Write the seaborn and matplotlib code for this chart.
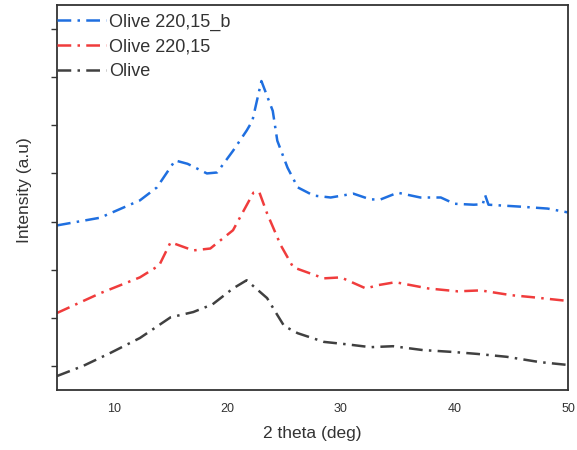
import matplotlib
matplotlib.use("Agg")
import matplotlib.pyplot as plt
import seaborn as sns
import numpy as np

sns.set_style("white")
plt.rcParams['font.family'] = ['Liberation Sans', 'DejaVu Sans']

# Olive 220,15_b (blue)
x_b = [5, 8.8, 12.3, 13.8, 15.4, 16.5, 18.2, 19.1, 20.5, 21.7, 22.2, 23.0, 24.0, 24.4,
       25.3, 26.2, 27.6, 29.1, 31.1, 32.6, 33.5, 35.0, 37.0, 38.8, 40.0, 41.7, 42.5, 42.7,
       43.0, 45.8, 48.2, 50]
y_b = [2.92, 3.08, 3.44, 3.71, 4.27, 4.20, 4.00, 4.02, 4.47, 4.89, 5.09, 5.92, 5.30, 4.68,
       4.12, 3.71, 3.54, 3.50, 3.58, 3.46, 3.46, 3.60, 3.50, 3.50, 3.37, 3.35, 3.36, 3.55,
       3.35, 3.31, 3.27, 3.19]

# Olive 220,15 (red)
x_r = [5, 8.8, 12.3, 14.0, 15.0, 17.0, 18.5, 20.5, 22.3, 22.8, 23.5, 24.7, 25.8, 28.5,
       30.0, 32.2, 33.3, 34.8, 37.7, 40.3, 42.3, 45.0, 46.8, 50]
y_r = [1.10, 1.51, 1.84, 2.09, 2.57, 2.40, 2.44, 2.82, 3.60, 3.62, 3.17, 2.51, 2.05, 1.82,
       1.84, 1.61, 1.68, 1.74, 1.61, 1.55, 1.57, 1.47, 1.43, 1.35]

# Olive (dark gray)
x_o = [5, 7.3, 9.7, 12.3, 15.0, 17.0, 18.7, 20.5, 21.7, 23.5, 24.4, 25.0, 26.2, 28.5,
       30.5, 32.6, 34.6, 37.2, 39.9, 42.0, 44.6, 47.5, 50]
y_o = [-0.21, 0.00, 0.27, 0.58, 1.01, 1.12, 1.28, 1.61, 1.78, 1.41, 1.06, 0.83, 0.68, 0.50,
       0.45, 0.39, 0.41, 0.33, 0.29, 0.25, 0.19, 0.08, 0.02]

labels = ["Olive 220,15_b", "Olive 220,15", "Olive"]
colors = ["#1f6fe0", "#f03c3c", "#404040"]

fig = plt.figure(figsize=(5.77, 4.5), dpi=100)
ax = fig.add_axes([57/577, 1-390/450, (568-57)/577, (390-5)/450])

ls = (0, (5.5, 2.5, 1, 2.5))
for xs, ys, lab, c in zip([x_b, x_r, x_o], [y_b, y_r, y_o], labels, colors):
    sns.lineplot(x=xs, y=ys, ax=ax, color=c, label=lab, linewidth=1.8,
                 linestyle=ls, sort=False)

ax.set_xlim(5, 50)
ax.set_ylim(-0.5, 7.5)
ax.set_xticks([10, 20, 30, 40, 50])
ax.set_yticks(range(0, 8))
ax.set_yticklabels([])
ax.tick_params(axis='x', length=0, labelsize=9, colors='#333333', pad=9)
ax.tick_params(axis='y', length=4, width=1, direction='out', left=True, colors='#333333')
for s in ax.spines.values():
    s.set_color('#333333')
    s.set_linewidth(1.3)

ax.set_xlabel("2 theta (deg)", fontsize=12.5, color='#333333', labelpad=8)
ax.set_ylabel("Intensity (a.u)", fontsize=12.5, color='#333333')
ax.yaxis.set_label_coords(-0.048, 0.52)

leg = ax.legend(loc='upper left', frameon=False, fontsize=13, handlelength=2.7,
                handletextpad=0.2, borderaxespad=0.0, borderpad=0.0, labelspacing=0.42,
                bbox_to_anchor=(0.0, 0.978))
for t in leg.get_texts():
    t.set_color('#333333')

fig.savefig("out.png", dpi=100)
